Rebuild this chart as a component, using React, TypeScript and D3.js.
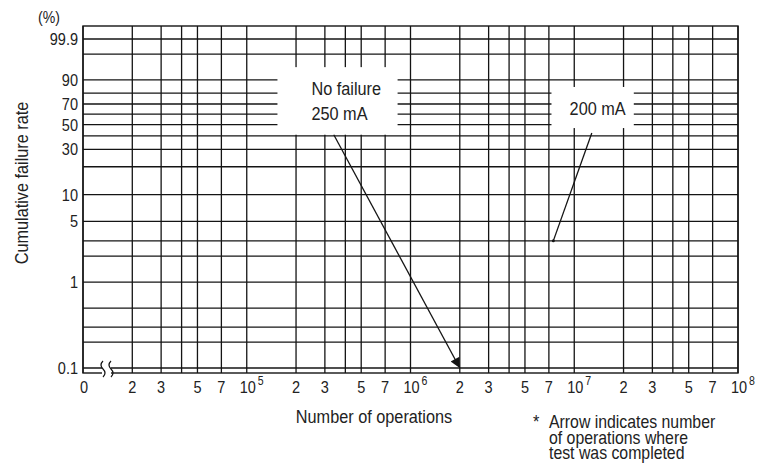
import { useEffect, useRef } from 'react';
import * as d3 from 'd3';

// x grid: decades of operations and the multipliers drawn inside each decade
const decades = [4, 5, 6, 7];
const gridMultipliers = [1, 2, 3, 4, 5, 7];
const labelledMultipliers = [2, 3, 5, 7];

// y grid (cumulative failure rate, %) on Weibull paper
const yGridValues = [0.1, 0.2, 0.3, 0.5, 1, 2, 3, 5, 10, 20, 30, 40, 50, 60, 70, 80, 90, 99, 99.9];
const yTickLabels = [0.1, 1, 5, 10, 30, 50, 70, 90, 99.9];

// annotations, in [operations, %]
const box250 = { x: [1.54e5, 8.34e5], y: [96.1, 41], lines: ['No failure', '250 mA'] };
const box200 = { x: [7.26e6, 2.31e7], y: [85.1, 46.8], lines: ['200 mA'] };
const arrow250 = { from: [3.4e5, 41], to: [2e6, 0.1] };
const leader200 = { from: [1.28e7, 42.5], to: [7.45e6, 3] };

const noteLines = ['Arrow indicates number', 'of operations where', 'test was completed'];

const FONT = '"Liberation Sans", Arial, Helvetica, sans-serif';
const NARROW = 0.88; // condensed look of the original lettering
const TEXT = '#222';

const weibull = (p: number) => Math.log(-Math.log(1 - p / 100));

type Sel = d3.Selection<any, unknown, null, undefined>;

function label(
  parent: Sel,
  x: number,
  y: number,
  text: string,
  size: number,
  anchor = 'start',
  rotate = 0
) {
  const t = parent
    .append('g')
    .attr('transform', `translate(${x},${y}) rotate(${rotate}) scale(${NARROW},1)`)
    .append('text')
    .attr('text-anchor', anchor)
    .attr('font-size', size)
    .attr('fill', TEXT);
  t.text(text);
  return t;
}

export default function App() {
  const svgRef = useRef<SVGSVGElement>(null);

  useEffect(() => {
    document.body.style.margin = '0';
    if (!svgRef.current) return;

    const width = 760;
    const height = 466;
    const left = 83;
    const right = 738;
    const top = 26;
    const bottom = 373;

    const svg = d3.select(svgRef.current);
    svg.selectAll('*').remove();
    svg.attr('width', width).attr('height', height).style('font-family', FONT);

    const x = d3.scaleLog().domain([1e4, 1e8]).range([left, right]);
    const y = d3
      .scaleLinear()
      .domain([weibull(0.1), weibull(99.9)])
      .range([368, 39]);
    const yp = (p: number) => y(weibull(p));

    const xGrid: number[] = [];
    decades.forEach((d) => gridMultipliers.forEach((m) => xGrid.push(m * 10 ** d)));
    xGrid.push(1e8);

    const ink = '#141414';
    const g: Sel = svg.append('g');

    // horizontal grid
    g.selectAll('line.h')
      .data(yGridValues)
      .join('line')
      .attr('x1', left)
      .attr('x2', right)
      .attr('y1', (d) => yp(d))
      .attr('y2', (d) => yp(d))
      .attr('stroke', ink)
      .attr('stroke-width', 1.3);

    // vertical grid
    g.selectAll('line.v')
      .data(xGrid)
      .join('line')
      .attr('x1', (d) => x(d))
      .attr('x2', (d) => x(d))
      .attr('y1', top)
      .attr('y2', bottom)
      .attr('stroke', ink)
      .attr('stroke-width', 1.3);

    // frame
    g.append('rect')
      .attr('x', left)
      .attr('y', top)
      .attr('width', right - left)
      .attr('height', bottom - top)
      .attr('fill', 'none')
      .attr('stroke', ink)
      .attr('stroke-width', 1.4);

    // axis break on the bottom edge
    g.append('rect')
      .attr('x', 102)
      .attr('y', 360)
      .attr('width', 9)
      .attr('height', 18)
      .attr('fill', '#fff');
    [101, 109].forEach((bx) => {
      g.append('path')
        .attr('d', `M${bx + 2},361 q-4,4 0,8 t0,8`)
        .attr('fill', 'none')
        .attr('stroke', ink)
        .attr('stroke-width', 1.2);
    });

    // y tick labels
    yTickLabels.forEach((d) => {
      label(g, 78, yp(d) + 6, `${d}`, 16.5, 'end');
    });
    label(svg, 49, 23, '(%)', 16, 'middle');
    label(svg, 28, 183, 'Cumulative failure rate', 18.5, 'middle', -90);

    // x tick labels
    label(g, x(1e4) + 1, 393, '0', 16.5, 'middle');
    decades.forEach((d) => {
      labelledMultipliers.forEach((m) => {
        label(g, x(m * 10 ** d), 393, `${m}`, 16.5, 'middle');
      });
      const t = label(g, x(10 ** (d + 1)) - 7, 393, '10', 16.5);
      t.append('tspan')
        .attr('dx', 2)
        .attr('dy', -8)
        .attr('font-size', 12)
        .text(`${d + 1}`);
    });

    label(svg, 374, 423, 'Number of operations', 18.5, 'middle');

    // note
    label(svg, 533, 428, '*', 18.5);
    noteLines.forEach((line, i) => {
      label(svg, 549, 428 + i * 15.5, line, 18);
    });

    // label boxes
    [box250, box200].forEach((b) => {
      const x0 = x(b.x[0]);
      const x1 = x(b.x[1]);
      const y0 = yp(b.y[0]);
      const y1 = yp(b.y[1]);
      g.append('rect')
        .attr('x', x0)
        .attr('y', y0)
        .attr('width', x1 - x0)
        .attr('height', y1 - y0)
        .attr('fill', '#fff');
      const cy = (y0 + y1) / 2;
      const n = b.lines.length;
      b.lines.forEach((line, i) => {
        label(
          g,
          n > 1 ? x0 + 34 : (x0 + x1) / 2 + 5,
          cy + (i - (n - 1) / 2) * 25 + 7,
          line,
          18.5,
          n > 1 ? 'start' : 'middle'
        );
      });
    });

    // arrow for 250 mA (test completed with no failure)
    const defs = svg.append('defs');
    defs.append('marker')
      .attr('id', 'arrowhead')
      .attr('viewBox', '0 0 10 10')
      .attr('refX', 10)
      .attr('refY', 5)
      .attr('markerWidth', 14)
      .attr('markerHeight', 10)
      .attr('markerUnits', 'userSpaceOnUse')
      .attr('orient', 'auto')
      .append('path')
      .attr('d', 'M0,0 L10,5 L0,10 Z')
      .attr('fill', ink);

    g.append('line')
      .attr('x1', x(arrow250.from[0]))
      .attr('y1', yp(arrow250.from[1]))
      .attr('x2', x(arrow250.to[0]))
      .attr('y2', yp(arrow250.to[1]))
      .attr('stroke', ink)
      .attr('stroke-width', 1.3)
      .attr('marker-end', 'url(#arrowhead)');

    // leader for 200 mA
    g.append('line')
      .attr('x1', x(leader200.from[0]))
      .attr('y1', yp(leader200.from[1]))
      .attr('x2', x(leader200.to[0]))
      .attr('y2', yp(leader200.to[1]))
      .attr('stroke', ink)
      .attr('stroke-width', 1.3);
    g.append('circle')
      .attr('cx', x(leader200.to[0]))
      .attr('cy', yp(leader200.to[1]))
      .attr('r', 1.5)
      .attr('fill', ink);
  }, []);

  return <svg ref={svgRef} style={{ display: 'block' }} />;
}
